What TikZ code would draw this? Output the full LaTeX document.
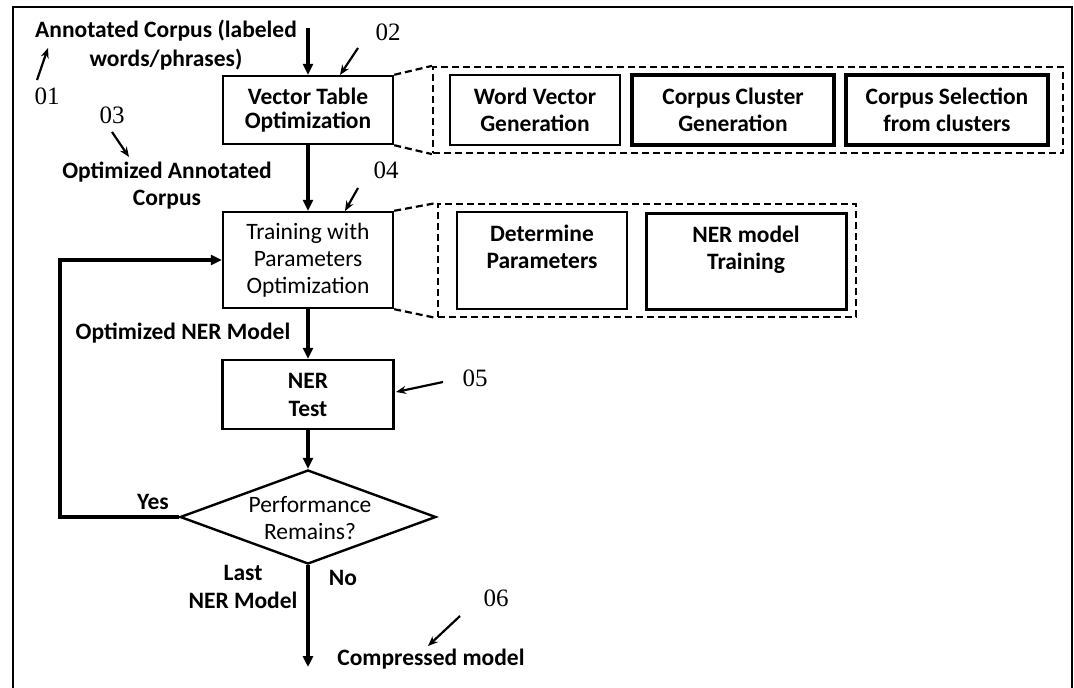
\documentclass[tikz,border=0pt]{standalone}
\usepackage{fontspec}
\setmainfont{Carlito}
\newfontfamily\numfont{Liberation Serif}
\usetikzlibrary{arrows.meta,shapes.geometric}
\begin{document}
\begin{tikzpicture}[x=1pt,y=-1pt,
  txt/.style={font=\fontsize{23.5}{27}\selectfont,align=center,inner sep=0pt},
  btxt/.style={font=\fontsize{23.5}{27}\selectfont\bfseries,align=center,inner sep=0pt},
  num/.style={font=\fontsize{25}{27}\selectfont\numfont,inner sep=0pt},
  box/.style={draw,line width=2.4pt,align=center,inner sep=0pt,font=\fontsize{23.5}{27}\selectfont},
  tbox/.style={box,line width=3.4pt},
  grp/.style={draw,line width=2.2pt,dash pattern=on 7pt off 4pt,inner sep=0pt},
  glink/.style={line width=2.2pt,dash pattern=on 7pt off 4pt},
  flow/.style={line width=3.4pt,-{Triangle[length=11pt,width=10pt]}},
  ptr/.style={line width=2.2pt,-{Stealth[length=10pt,width=8pt]}},
  dia/.style={draw,diamond,line width=2.4pt,inner sep=0pt,minimum width=256pt,minimum height=94pt}
]
\useasboundingbox (0,0) rectangle (1074,688);
% outer frame
\draw[line width=2.6pt] (13,692) -- (13,7) -- (1072,7) -- (1072,692);

% main boxes
\node[box,font=\fontsize{23.5}{24}\selectfont\bfseries,minimum width=170pt,minimum height=68pt] (vto) at (308,110) {Vector Table\\Optimization};
\node[box,minimum width=170pt,minimum height=96pt] (train) at (308,260) {Training with\\Parameters\\Optimization};
\node[box,font=\fontsize{23.5}{28}\selectfont\bfseries,minimum width=171pt,minimum height=69pt] (ner) at (308,394.5) {NER\\Test};
\node[dia] (dec) at (308,517) {};
\node[txt] (dectxt) at (310,518) {Performance\\Remains?};

% group 1
\node[grp,minimum width=630pt,minimum height=86pt] (g1) at (748,110) {};
\node[box,font=\fontsize{23.5}{27}\selectfont\bfseries,minimum width=170pt,minimum height=70pt] (wvg) at (535,110) {Word Vector\\Generation};
\node[tbox,font=\fontsize{23.5}{27}\selectfont\bfseries,minimum width=202pt,minimum height=70pt] (ccg) at (733,110) {Corpus Cluster\\Generation};
\node[tbox,font=\fontsize{23.5}{27}\selectfont\bfseries,minimum width=202pt,minimum height=70pt] (csc) at (947,110) {Corpus Selection\\from clusters};
\draw[glink] (vto.north east) -- (g1.north west);
\draw[glink] (vto.south east) -- (g1.south west);

% group 2
\node[grp,minimum width=418pt,minimum height=113pt] (g2) at (647,260.5) {};
\node[box,font=\fontsize{23.5}{27}\selectfont\bfseries,minimum width=170pt,minimum height=97pt] (det) at (542,260.5) {Determine\\Parameters\\\mbox{}};
\node[box,line width=3pt,font=\fontsize{23.5}{27}\selectfont\bfseries,minimum width=200pt,minimum height=96pt] (nmt) at (746,261) {NER model\\Training\\\mbox{}};
\draw[glink] (train.north east) -- (g2.north west);
\draw[glink] (train.south east) -- (g2.south west);

% flow connectors
\coordinate (in) at (308,28);
\coordinate (out) at (308,667);
\coordinate (lp) at (60,517);
\draw[flow] (in) -- (vto.north);
\draw[flow] (vto.south) -- (train.north);
\draw[flow] (train.south) -- (ner.north);
\draw[flow] (ner.south) -- (dec.north);
\draw[flow] (dec.west) -- (lp) |- (train.west);
\draw[flow] (dec.south) -- (out);

% labels
\node[btxt,font=\fontsize{23.5}{29}\selectfont\bfseries] (ac) at (166,45) {Annotated Corpus (labeled\\words/phrases)};
\node[btxt] (oac) at (167,186) {Optimized Annotated\\Corpus};
\node[btxt] (onm) at (183,333) {Optimized NER Model};
\node[btxt] (yes) at (153,502) {Yes};
\node[btxt] (no) at (343,578) {No};
\node[btxt,font=\fontsize{23.5}{28}\selectfont\bfseries] (last) at (243,587) {Last\\NER Model};
\node[btxt] (cm) at (431,659) {Compressed model};

% reference numbers
\node[num] (n01) at (47,96) {01};
\node[num] (n02) at (388,32) {02};
\node[num] (n03) at (112,115) {03};
\node[num] (n04) at (386,170) {04};
\node[num] (n05) at (475,378) {05};
\node[num] (n06) at (496,598) {06};

\coordinate (p1s) at (37,80);  \coordinate (p1e) at (48,48);
\coordinate (p2s) at (358,48); \coordinate (p2e) at (340,75);
\coordinate (p3s) at (112,132); \coordinate (p3e) at (129,157);
\coordinate (p4s) at (358,188); \coordinate (p4e) at (345,211);
\coordinate (p5s) at (443,382); \coordinate (p5e) at (396,392);
\coordinate (p6s) at (460,616); \coordinate (p6e) at (428,646);
\draw[ptr] (p1s) -- (p1e);
\draw[ptr] (p2s) -- (p2e);
\draw[ptr] (p3s) -- (p3e);
\draw[ptr] (p4s) -- (p4e);
\draw[ptr] (p5s) -- (p5e);
\draw[ptr] (p6s) -- (p6e);
\end{tikzpicture}
\end{document}
